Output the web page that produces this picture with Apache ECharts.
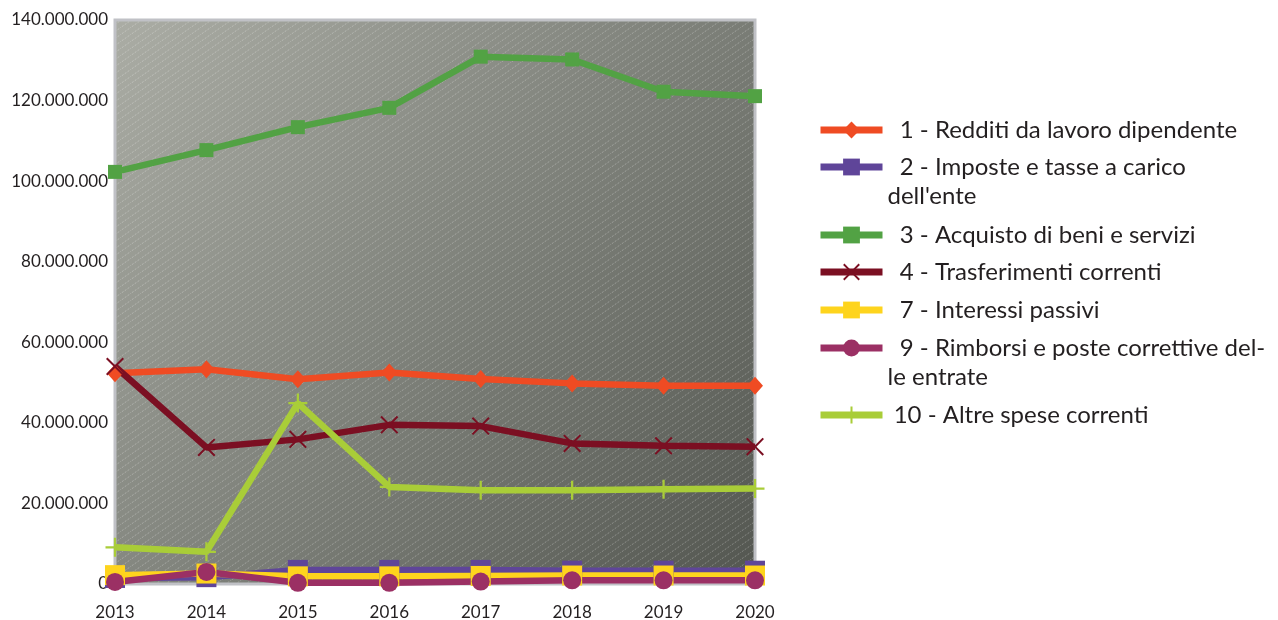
<!DOCTYPE html>
<html>
<head>
<meta charset="utf-8">
<title>Spese correnti per macroaggregato 2013-2020</title>
<script src="https://cdn.jsdelivr.net/npm/echarts@6/dist/echarts.min.js"></script>
<style>
  html, body { margin: 0; padding: 0; background: #ffffff; }
  #chart { width: 1278px; height: 620px; }
</style>
</head>
<body>
<div id="chart"></div>
<script>
// Years on the category axis
const years = ['2013', '2014', '2015', '2016', '2017', '2018', '2019', '2020'];

// Series names (as shown in the legend)
const names = [
  '1 - Redditi da lavoro dipendente',
  '2 - Imposte e tasse a carico dell\'ente',
  '3 - Acquisto di beni e servizi',
  '4 - Trasferimenti correnti',
  '7 - Interessi passivi',
  '9 - Rimborsi e poste correttive delle entrate',
  '10 - Altre spese correnti'
];

// Legend texts, wrapped the same way as the printed legend
const legendTexts = [
  '  1 - Redditi da lavoro dipendente',
  '  2 - Imposte e tasse a carico\ndell\'ente',
  '  3 - Acquisto di beni e servizi',
  '  4 - Trasferimenti correnti',
  '  7 - Interessi passivi',
  '  9 - Rimborsi e poste correttive del-\nle entrate',
  ' 10 - Altre spese correnti'
];

// Values in euro
const redditi      = [52300000, 53300000, 50800000, 52500000, 50900000, 49800000, 49200000, 49200000];
const imposte      = [1500000, 1700000, 3500000, 3500000, 3500000, 3300000, 3300000, 3300000];
const acquisto     = [102300000, 107700000, 113400000, 118200000, 130900000, 130200000, 122200000, 121100000];
const trasferimenti= [54000000, 33900000, 35900000, 39500000, 39200000, 34900000, 34300000, 34100000];
const interessi    = [2200000, 2600000, 1900000, 1900000, 2000000, 2100000, 2100000, 2100000];
const rimborsi     = [500000, 3000000, 300000, 300000, 600000, 900000, 900000, 900000];
const altre        = [9100000, 8000000, 44900000, 24100000, 23300000, 23300000, 23500000, 23700000];

// Y axis ticks
const yMin = 0, yMax = 140000000, yStep = 20000000;

const seriesValues = [redditi, imposte, acquisto, trasferimenti, interessi, rimborsi, altre];

// Styling
const colors = ['#ef4b23', '#5f4599', '#52a244', '#7b0f22', '#fed41d', '#9b3064', '#a9cd38'];
const crossPath = 'path://M0,0.8L0.8,0L5,4.2L9.2,0L10,0.8L5.8,5L10,9.2L9.2,10L5,5.8L0.8,10L0,9.2L4.2,5Z';
const plusPath = 'path://M4.4,0H5.6V4.4H10V5.6H5.6V10H4.4V5.6H0V4.4H4.4Z';
const symbols = ['diamond', 'rect', 'rect', crossPath, 'rect', 'circle', plusPath];
const symbolSizes = [[16, 18], 20, 14, 18, 20, 18, 19];

const FONT = 'Lato, "Open Sans", sans-serif';
const TEXT = '#231f20';

const gridBox = { left: 115, top: 20, right: 523, bottom: 36 };
const W = 1278, H = 620;

// Legend layout: vertical centre of each entry's icon
const legendCentres = [130, 167, 235, 272, 310, 348, 415];
const legendLineH = 29.3;

function dots(v) {
  return String(v).replace(/\B(?=(\d{3})+(?!\d))/g, '.');
}

// Diagonal hatch used over the plot background
function hatchCanvas() {
  const c = document.createElement('canvas');
  c.width = 10; c.height = 7;
  const ctx = c.getContext('2d');
  ctx.strokeStyle = 'rgba(255,255,255,0.36)';
  ctx.lineWidth = 0.8;
  ctx.setLineDash([2, 1.5]);
  ctx.beginPath();
  ctx.moveTo(-1, 7.7);
  ctx.lineTo(11, -0.7);
  ctx.stroke();
  return c;
}

const chart = echarts.init(document.getElementById('chart'), null, { renderer: 'canvas' });

const legends = names.map(function (name, i) {
  const text = legendTexts[i];
  const nLines = text.indexOf('\n') >= 0 ? 3 : 1;
  return {
    show: true,
    orient: 'vertical',
    left: 817,
    top: legendCentres[i] - nLines * legendLineH / 2,
    padding: 0,
    itemWidth: 62,
    itemHeight: 21,
    selectedMode: false,
    data: [name],
    formatter: function () { return nLines === 3 ? '\n' + text : text; },
    textStyle: {
      fontFamily: FONT,
      fontSize: 24,
      color: TEXT,
      lineHeight: legendLineH
    },
    lineStyle: { width: 7 }
  };
});

const series = names.map(function (name, i) {
  return {
    name: name,
    type: 'line',
    data: seriesValues[i],
    symbol: symbols[i],
    symbolSize: symbolSizes[i],
    showAllSymbol: true,
    color: colors[i],
    lineStyle: { width: 6.5, color: colors[i] },
    itemStyle: { color: colors[i], opacity: 1 },
    emphasis: { disabled: true }
  };
});

const gx = gridBox.left, gy = gridBox.top;
const gw = W - gridBox.left - gridBox.right, gh = H - gridBox.top - gridBox.bottom;

chart.setOption({
  animation: false,
  backgroundColor: '#ffffff',
  textStyle: { fontFamily: FONT },
  grid: {
    left: gridBox.left, top: gridBox.top, right: gridBox.right, bottom: gridBox.bottom,
    containLabel: false,
    outerBoundsMode: 'none',
    show: true,
    borderColor: '#c0c1c6',
    borderWidth: 3,
    backgroundColor: {
      type: 'linear', x: 0, y: 0, x2: 1, y2: 1,
      colorStops: [
        { offset: 0, color: '#abada5' },
        { offset: 0.5, color: '#7f827b' },
        { offset: 1, color: '#535650' }
      ]
    }
  },
  graphic: [{
    type: 'rect',
    z: 1,
    silent: true,
    shape: { x: gx + 1.5, y: gy + 1.5, width: gw - 3, height: gh - 3 },
    style: { fill: { image: hatchCanvas(), repeat: 'repeat' } }
  }],
  legend: legends,
  xAxis: {
    type: 'category',
    data: years,
    boundaryGap: false,
    axisLine: { show: false },
    axisTick: { show: false },
    splitLine: { show: false },
    axisLabel: { margin: 20, fontFamily: FONT, fontSize: 17, color: TEXT }
  },
  yAxis: {
    type: 'value',
    min: yMin, max: yMax, interval: yStep,
    axisLine: { show: false },
    axisTick: { show: false },
    splitLine: { show: false },
    axisLabel: { margin: 7, fontFamily: FONT, fontSize: 17, color: TEXT, formatter: dots }
  },
  series: series
});
</script>
</body>
</html>
